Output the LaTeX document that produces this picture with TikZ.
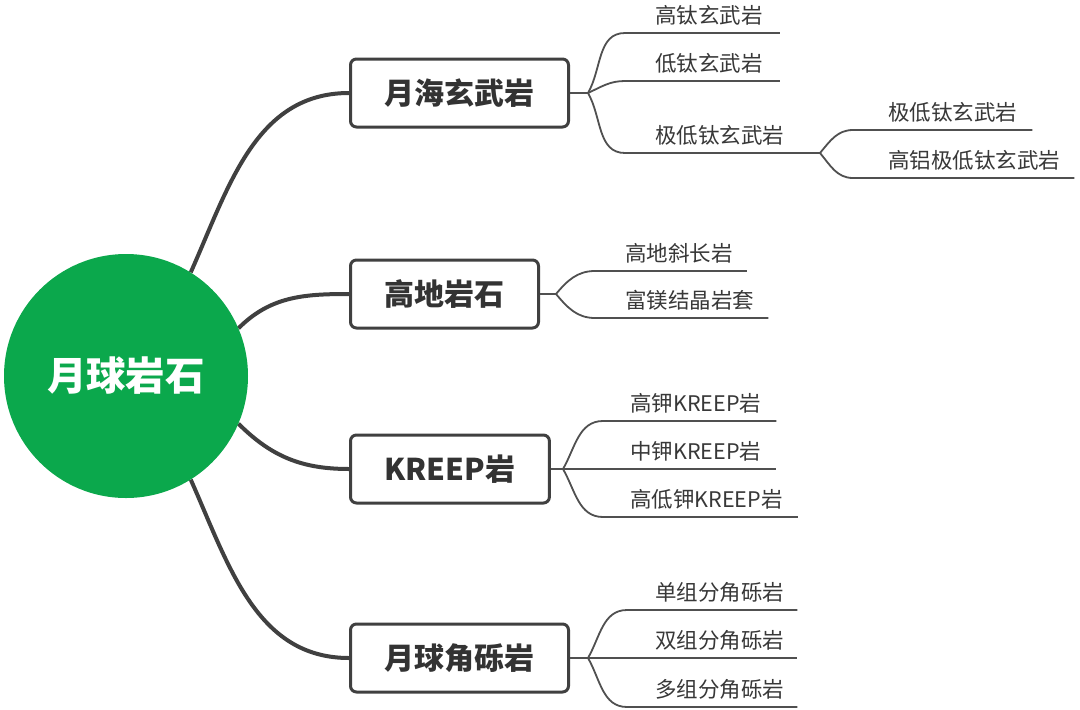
\documentclass[tikz,border=0pt]{standalone}
\usepackage{fontspec}
\setmainfont{Noto Sans CJK SC}
\usetikzlibrary{backgrounds}
\definecolor{moongreen}{RGB}{11,168,76}
\definecolor{branchgray}{RGB}{64,64,64}
\definecolor{twiggray}{RGB}{80,80,80}
\definecolor{labelgray}{RGB}{56,56,56}
\begin{document}
\begin{tikzpicture}[x=1pt, y=-1pt,
    root/.style={circle, fill=moongreen, minimum size=244pt, inner sep=0pt, text=white, font=\bfseries\fontsize{39.5}{46}\selectfont},
    rock/.style={draw=branchgray, line width=3pt, rounded corners=6pt, anchor=west, minimum height=68pt, inner xsep=34pt, text=black!80, font=\bfseries\fontsize{30}{36}\selectfont},
    leaf/.style={anchor=south west, inner xsep=0pt, inner ysep=7pt, text height=19pt, text depth=2.6pt, text=labelgray, font=\fontsize{21.5}{26}\selectfont},
    branch/.style={draw=branchgray, line width=4pt},
    twig/.style={draw=twiggray, line width=1.8pt}]
    \useasboundingbox (0,0) rectangle (1080,710);

    % Nodes
    \node[root] (root) at (126,376) {月球岩石};
    \node[rock] (b1) at (349,93) {月海玄武岩};
    \node[rock] (b2) at (349,294) {高地岩石};
    \node[rock] (b3) at (349,469) {KREEP岩};
    \node[rock] (b4) at (349,658) {月球角砾岩};

    \node[leaf] (l11) at (655,33) {高钛玄武岩};
    \node[leaf] (l12) at (655,81) {低钛玄武岩};
    \node[leaf] (l13) at (655,153) {极低钛玄武岩};
    \node[leaf] (l14) at (888,130) {极低钛玄武岩};
    \node[leaf] (l15) at (888,178) {高铝极低钛玄武岩};

    \node[leaf] (l21) at (625,271) {高地斜长岩};
    \node[leaf] (l22) at (625,318) {富镁结晶岩套};

    \node[leaf] (l31) at (630,421) {高钾KREEP岩};
    \node[leaf] (l32) at (630,469) {中钾KREEP岩};
    \node[leaf] (l33) at (630,517) {高低钾KREEP岩};

    \node[leaf] (l41) at (655,610) {单组分角砾岩};
    \node[leaf] (l42) at (655,658) {双组分角砾岩};
    \node[leaf] (l43) at (655,707) {多组分角砾岩};

    \coordinate (f1) at (588,93);
    \coordinate (f1b) at (820,153);
    \coordinate (f2) at (556,294);
    \coordinate (f3) at (563,469);
    \coordinate (f4) at (588,658);

    % Main branches
    \begin{scope}[on background layer]
        \fill[white] (0,0) rectangle (1080,710);
        \draw[branch] (root.58) to[out=66, in=180] (b1.west);
        \draw[branch] (root.23) to[out=45, in=180] (b2.west);
        \draw[branch] (root.-23) to[out=-45, in=180] (b3.west);
        \draw[branch] (root.-58) to[out=-66, in=180] (b4.west);
    \end{scope}

    % Sub branches
    \draw[twig] (b1.east) -- (f1);
    \draw[twig] (f1) to[out=60, in=180] ([xshift=-30pt]l11.south west) -- ([xshift=17pt]l11.south east);
    \draw[twig] (f1) to[out=25, in=180] ([xshift=-30pt]l12.south west) -- ([xshift=17pt]l12.south east);
    \draw[twig] (f1) to[out=-60, in=180] ([xshift=-30pt]l13.south west) -- (f1b);
    \draw[twig] (f1b) to[out=50, in=180] ([xshift=-35pt]l14.south west) -- ([xshift=15pt]l14.south east);
    \draw[twig] (f1b) to[out=-50, in=180] ([xshift=-35pt]l15.south west) -- ([xshift=14pt]l15.south east);

    \draw[twig] (b2.east) -- (f2);
    \draw[twig] (f2) to[out=50, in=180] ([xshift=-30pt]l21.south west) -- ([xshift=14pt]l21.south east);
    \draw[twig] (f2) to[out=-50, in=180] ([xshift=-30pt]l22.south west) -- ([xshift=14pt]l22.south east);

    \draw[twig] (b3.east) -- (f3);
    \draw[twig] (f3) to[out=60, in=180] ([xshift=-27pt]l31.south west) -- ([xshift=15pt]l31.south east);
    \draw[twig] (f3) -- ([xshift=15pt]l32.south east);
    \draw[twig] (f3) to[out=-60, in=180] ([xshift=-27pt]l33.south west) -- ([xshift=15pt]l33.south east);

    \draw[twig] (b4.east) -- (f4);
    \draw[twig] (f4) to[out=60, in=180] ([xshift=-28pt]l41.south west) -- ([xshift=13pt]l41.south east);
    \draw[twig] (f4) -- ([xshift=13pt]l42.south east);
    \draw[twig] (f4) to[out=-60, in=180] ([xshift=-28pt]l43.south west) -- ([xshift=13pt]l43.south east);
\end{tikzpicture}
\end{document}
